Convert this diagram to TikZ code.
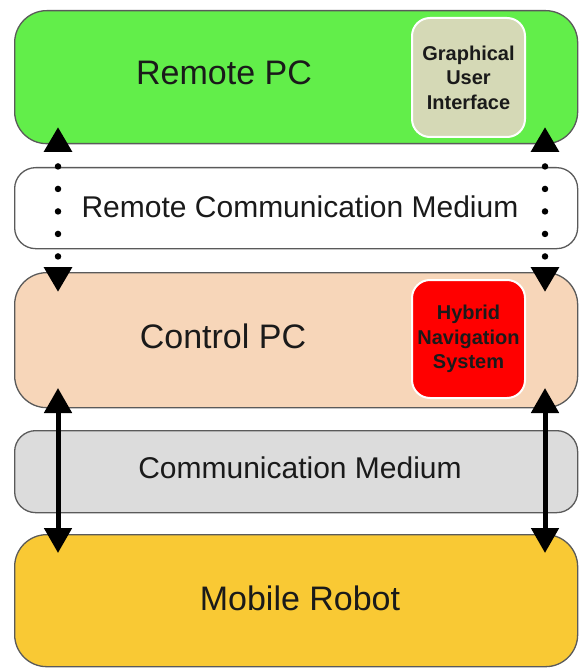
\documentclass[tikz,border=0pt]{standalone}
\usepackage{fontspec}
\setmainfont{Liberation Sans}
\usetikzlibrary{arrows.meta}

\definecolor{remotegreen}{HTML}{62EE4A}
\definecolor{peach}{HTML}{F7D6B9}
\definecolor{mediumgray}{HTML}{DCDCDC}
\definecolor{robotyellow}{HTML}{F9C934}
\definecolor{guikhaki}{HTML}{D5D9B6}
\definecolor{hybridred}{HTML}{FF0000}
\definecolor{edgegray}{HTML}{5A5A5A}
\definecolor{textdark}{HTML}{1A1A1A}

\tikzset{
  layer/.style={draw=edgegray, line width=1.3pt, inner sep=0pt,
    minimum width=563pt, anchor=north west},
  tall/.style={layer, rounded corners=32pt},
  thin/.style={layer, rounded corners=21pt},
  module/.style={draw=white, line width=2pt, rounded corners=18pt,
    minimum width=113pt, inner sep=0pt, align=center, text=textdark,
    font=\bfseries\fontsize{20}{24.5}\selectfont},
  biglabel/.style={anchor=base, text=textdark, font=\fontsize{34}{40}\selectfont},
  midlabel/.style={anchor=base, text=textdark, font=\fontsize{30}{36}\selectfont},
  link/.style={line width=5pt, {Triangle[length=25pt,width=27pt]}-{Triangle[length=25pt,width=27pt]}},
  remotelink/.style={line width=6.5pt, line cap=round,
    dash pattern=on 0pt off 22.5pt, dash phase=6.5pt,
    {Triangle[length=25pt,width=27pt]}-{Triangle[length=25pt,width=27pt]}},
}

\begin{document}
\begin{tikzpicture}[x=1pt, y=-1pt]
  \useasboundingbox (0,0) rectangle (579,668);

  % five stacked layers
  \node[tall, fill=remotegreen, minimum height=133pt] (remote) at (14,10) {};
  \node[thin, fill=white, minimum height=81pt] (remotemedium) at (14,167) {};
  \node[tall, fill=peach, minimum height=135pt] (control) at (14,272) {};
  \node[thin, fill=mediumgray, minimum height=82pt] (medium) at (14,430) {};
  \node[tall, fill=robotyellow, minimum height=132pt] (robot) at (14,534) {};

  % layer titles
  \node[biglabel] (remotetxt) at (224,85) {Remote PC};
  \node[midlabel] (remotemediumtxt) at (300,217) {Remote Communication Medium};
  \node[biglabel] (controltxt) at (223,348) {Control PC};
  \node[midlabel] (mediumtxt) at (300,478) {Communication Medium};
  \node[biglabel] (robottxt) at (300,610) {Mobile Robot};

  % software modules
  \node[module, fill=guikhaki, minimum height=119pt] (gui) at (468.5,77.5)
    {Graphical\\User\\Interface};
  \node[module, fill=hybridred, minimum height=118pt] (hybrid) at (468.5,339)
    {Hybrid\\Navigation\\System};

  % connector end points
  \coordinate (remoteL) at (58,127);
  \coordinate (controlTopL) at (58,292);
  \coordinate (remoteR) at (545,127);
  \coordinate (controlTopR) at (545,292);
  \coordinate (controlBotL) at (58,388);
  \coordinate (robotL) at (58,553);
  \coordinate (controlBotR) at (545,388);
  \coordinate (robotR) at (545,553);

  % remote (dotted) and local (solid) links
  \draw[remotelink] (remoteL) -- (controlTopL);
  \draw[remotelink] (remoteR) -- (controlTopR);
  \draw[link] (controlBotL) -- (robotL);
  \draw[link] (controlBotR) -- (robotR);
\end{tikzpicture}
\end{document}
